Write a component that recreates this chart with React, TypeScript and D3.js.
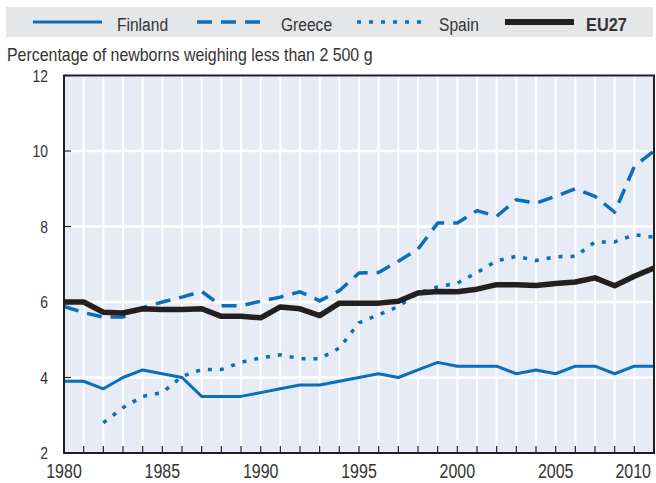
import React from "react";
import * as d3 from "d3";

const years = [1980,1981,1982,1983,1984,1985,1986,1987,1988,1989,1990,1991,1992,1993,1994,1995,1996,1997,1998,1999,2000,2001,2002,2003,2004,2005,2006,2007,2008,2009,2010];
const finland = [3.9,3.9,3.7,4.0,4.2,4.1,4.0,3.5,3.5,3.5,3.6,3.7,3.8,3.8,3.9,4.0,4.1,4.0,4.2,4.4,4.3,4.3,4.3,4.1,4.2,4.1,4.3,4.3,4.1,4.3,4.3];
const greece = [5.88,5.72,5.6,5.6,5.85,6.0,6.13,6.28,5.9,5.9,6.02,6.13,6.27,6.03,6.3,6.77,6.78,7.08,7.4,8.09,8.09,8.42,8.27,8.71,8.62,8.8,9.0,8.8,8.38,9.59,10.0];
const spain: (number | null)[] = [null,null,2.8,3.2,3.5,3.6,4.03,4.21,4.21,4.4,4.52,4.6,4.5,4.5,4.78,5.45,5.66,5.88,6.24,6.4,6.5,6.78,7.09,7.21,7.1,7.2,7.21,7.59,7.59,7.78,7.72];
const eu27 = [6.0,6.0,5.73,5.71,5.82,5.8,5.8,5.82,5.62,5.62,5.58,5.87,5.82,5.64,5.97,5.97,5.97,6.02,6.24,6.28,6.27,6.34,6.46,6.46,6.44,6.49,6.53,6.64,6.43,6.68,6.9];
const yTicks = [2,4,6,8,10,12];
const xLabels = [1980,1985,1990,1995,2000,2005,2010];
const seriesNames = ["Finland","Greece","Spain","EU27"];
const title = "Percentage of newborns weighing less than 2 500 g";

const W = 656, H = 483;
const L = 64, R = 654, T = 75.5, B = 453;
const BLUE = "#0a6ebd";
const DARK = "#231f20";
const FONT = "'Liberation Sans', Arial, sans-serif";
const SX = 0.82;

function Txt(props: { x: number; y: number; size: number; anchor?: string; bold?: boolean; sx?: number; children: React.ReactNode }) {
  return (
    <text transform={`translate(${props.x},${props.y}) scale(${props.sx ?? SX},1)`} fontSize={props.size}
      textAnchor={props.anchor || "start"} fontWeight={props.bold ? "bold" : "normal"} fill="#333">
      {props.children}
    </text>
  );
}

export default function App() {
  const x = d3.scaleLinear().domain([1980, 2010]).range([L, R]);
  const y = d3.scaleLinear().domain([2, 12]).range([B, T]);
  const mk = (vals: (number | null)[]) =>
    d3.line<number>()
      .defined((_, i) => vals[i] != null)
      .x((_, i) => x(years[i]))
      .y((_, i) => y(vals[i] as number))(years as any) || "";

  const styles = [
    { stroke: BLUE, width: 3, dash: undefined as string | undefined },
    { stroke: BLUE, width: 3.5, dash: "15,9" },
    { stroke: BLUE, width: 3.5, dash: "4,8" },
    { stroke: DARK, width: 5.5, dash: undefined },
  ];
  const data = [finland, greece, spain, eu27];
  const legendX = [
    { l0: 33, l1: 102, t: 117 },
    { l0: 197, l1: 264, t: 281 },
    { l0: 357, l1: 425, t: 439 },
    { l0: 505, l1: 574, t: 586 },
  ];

  return (
    <svg width={W} height={H} style={{ position: "absolute", left: 0, top: 0 }} fontFamily={FONT}>
      <rect x={0} y={0} width={W} height={H} fill="#fff" />
      {/* legend */}
      <rect x={6} y={7} width={647} height={30} fill="#e5e6e8" />
      {seriesNames.map((n, i) => (
        <g key={n}>
          <line x1={legendX[i].l0} x2={legendX[i].l1} y1={22} y2={22}
            stroke={styles[i].stroke} strokeWidth={i === 3 ? 6 : styles[i].width}
            strokeDasharray={styles[i].dash} />
          <Txt x={legendX[i].t} y={30.5} size={19} bold={i === 3} sx={i === 3 ? 0.86 : SX}>{n}</Txt>
        </g>
      ))}
      <Txt x={7} y={60.5} size={18} sx={0.885}>{title}</Txt>
      {/* plot background */}
      <rect x={L} y={T} width={R - L} height={B - T} fill="#e6ebf6" />
      {years.map((yr) => (
        <line key={"vg" + yr} x1={x(yr)} x2={x(yr)} y1={T} y2={B} stroke="#fff" strokeWidth={2} />
      ))}
      {yTicks.map((t) => (
        <line key={"hg" + t} x1={L} x2={R} y1={y(t)} y2={y(t)} stroke="#fff" strokeWidth={2.5} />
      ))}
      {/* ticks */}
      {years.map((yr) => (
        <line key={"xt" + yr} x1={x(yr)} x2={x(yr)} y1={B} y2={B - 7} stroke={DARK} strokeWidth={1.2} />
      ))}
      {yTicks.map((t) => (
        <line key={"yt" + t} x1={L} x2={L + 7} y1={y(t)} y2={y(t)} stroke={DARK} strokeWidth={1.2} />
      ))}
      {/* series */}
      {data.map((vals, i) => (
        <path key={"s" + i} d={mk(vals)} fill="none" stroke={styles[i].stroke}
          strokeWidth={styles[i].width} strokeDasharray={styles[i].dash}
          strokeLinejoin="round" />
      ))}
      {/* frame */}
      <rect x={L} y={T} width={R - L} height={B - T} fill="none" stroke={DARK} strokeWidth={2} />
      {/* tick labels */}
      {yTicks.map((t) => (
        <Txt key={"yl" + t} x={48} y={y(t) + 6} anchor="end" size={17}>{t}</Txt>
      ))}
      {xLabels.map((yr, i) => (
        <Txt key={"xl" + yr} x={i === xLabels.length - 1 ? x(yr) - 3 : x(yr)} y={478}
          anchor={i === xLabels.length - 1 ? "end" : "middle"} size={19.5}>{yr}</Txt>
      ))}
    </svg>
  );
}
